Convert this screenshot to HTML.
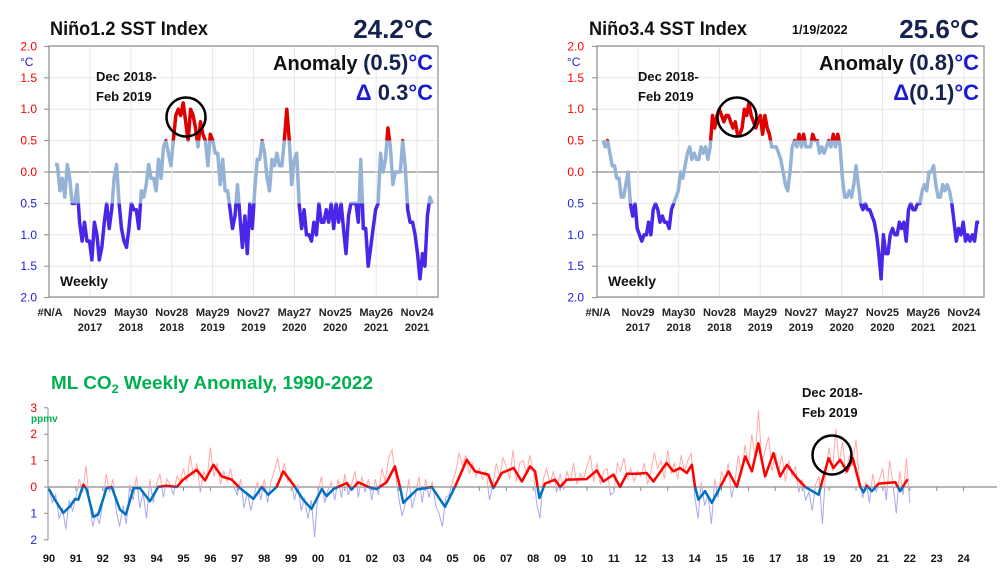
<!DOCTYPE html>
<html><head><meta charset="utf-8"><style>
html,body{margin:0;padding:0;background:#fff;}
svg{display:block;font-family:"Liberation Sans",sans-serif;}
</style></head><body>
<svg id="s" width="1005" height="586" viewBox="0 0 1005 586">
</svg>
<script>
// ---------- DATA ----------
const ninoTickLabels = ["#N/A","Nov29","May30","Nov28","May29","Nov27","May27","Nov25","May26","Nov24"];
const ninoTickYears = ["","2017","2018","2018","2019","2019","2020","2020","2021","2021"];
const ninoTickWeeks = [-26,0,26,52,78,104,130,156,182,208];
const ninoYTicks = [2,1.5,1,0.5,0,-0.5,-1,-1.5,-2];
const ninoYLabels = ["2.0","1.5","1.0","0.5","0.0","0.5","1.0","1.5","2.0"];
const ninoWeekStart = -22.3, ninoWeekEnd = 217.7;
const nino12Values = [0.12,0.12,-0.3,-0.1,-0.4,0.12,-0.1,-0.5,-0.5,-0.2,-0.8,-1.1,-0.8,-1.1,-1.1,-1.4,-0.8,-1.0,-1.4,-1.2,-0.8,-0.5,-0.9,-0.6,-0.1,0.12,-0.5,-0.9,-1.1,-1.2,-0.9,-0.5,-0.6,-0.6,-0.9,-0.3,-0.4,-0.2,0.12,-0.1,-0.1,-0.3,0.2,-0.1,0.4,0.5,0.3,0.1,0.5,0.9,1.0,0.9,1.1,0.8,0.5,1.0,0.9,0.7,0.4,0.8,0.6,0.5,0.1,0.6,0.5,0.3,0.3,-0.2,0.2,-0.3,-0.3,-0.6,-0.9,-0.7,-0.2,-0.7,-1.2,-0.7,-1.3,-0.5,-0.9,-0.3,0.2,0.2,0.5,0.3,-0.1,-0.3,0.2,0.1,0.3,0.1,0.1,0.5,1.0,0.5,-0.2,0.2,0.3,-0.5,-0.9,-0.6,-1.0,-1.0,-1.1,-0.8,-1.0,-0.5,-0.8,-0.8,-0.6,-0.8,-0.5,-0.9,-0.5,-0.8,-0.5,-0.9,-1.3,-0.7,-0.5,-0.5,-0.5,-0.8,0.2,-0.9,-0.9,-1.5,-1.2,-0.9,-0.6,-0.5,0.3,0.0,0.2,0.7,0.4,-0.2,0.0,0.0,0.0,0.5,0.1,-0.6,-0.8,-0.8,-1.0,-1.3,-1.7,-1.3,-1.5,-0.7,-0.4,-0.5];
const nino34Values = [0.5,0.4,0.5,0.3,0.1,0.1,-0.1,-0.1,-0.4,-0.4,-0.2,0.0,-0.5,-0.7,-0.5,-0.9,-1.0,-1.1,-1.0,-1.0,-0.8,-1.0,-0.6,-0.5,-0.6,-0.8,-0.7,-0.8,-0.8,-0.9,-0.6,-0.5,-0.4,-0.3,0.0,-0.1,0.1,0.3,0.4,0.2,0.3,0.2,0.2,0.4,0.3,0.4,0.2,0.4,0.9,0.7,0.9,1.0,0.9,0.8,0.9,0.9,0.8,0.7,0.8,0.6,0.6,0.7,1.0,0.9,1.1,0.9,0.8,0.7,0.8,0.9,0.6,0.9,0.7,0.6,0.4,0.4,0.4,0.3,0.2,0.0,-0.2,-0.3,0.0,0.4,0.5,0.4,0.6,0.4,0.6,0.4,0.4,0.4,0.6,0.5,0.5,0.3,0.4,0.3,0.4,0.5,0.4,0.6,0.4,0.6,0.4,-0.1,-0.4,-0.4,-0.3,-0.4,-0.2,0.1,-0.2,-0.5,-0.6,-0.5,-0.6,-0.6,-0.7,-0.8,-1.0,-1.3,-1.7,-1.0,-1.3,-1.3,-1.0,-0.9,-1.0,-1.0,-0.8,-0.9,-0.8,-1.1,-0.6,-0.5,-0.6,-0.6,-0.5,-0.5,-0.3,-0.2,-0.3,0.0,0.0,0.1,-0.2,-0.4,-0.4,-0.2,-0.3,-0.2,-0.3,-0.5,-0.8,-1.1,-0.9,-1.0,-0.8,-1.1,-1.0,-1.1,-1.0,-1.1,-0.8,-0.8];

const co2YearLabels = ["90","91","92","93","94","95","96","97","98","99","00","01","02","03","04","05","06","07","08","09","10","11","12","13","14","15","16","17","18","19","20","21","22","23","24"];
const co2YTicks = [3,2,1,0,-1,-2];
const co2YLabels = ["3","2","1","0","1","2"];
const co2SmoothYears = [1990.00,1990.22,1990.53,1990.78,1990.97,1991.09,1991.28,1991.40,1991.65,1991.83,1992.14,1992.33,1992.64,1992.86,1993.14,1993.38,1993.75,1994.06,1994.37,1994.75,1994.99,1995.49,1995.80,1996.11,1996.42,1996.79,1997.10,1997.60,1997.91,1998.15,1998.46,1998.71,1999.08,1999.45,1999.76,2000.14,2000.32,2000.57,2001.07,2001.25,2001.50,2001.87,2002.18,2002.55,2002.86,2003.05,2003.17,2003.67,2004.23,2004.72,2005.09,2005.53,2005.84,2006.33,2006.52,2006.83,2007.27,2007.58,2007.88,2008.07,2008.23,2008.44,2008.81,2009.00,2009.25,2009.99,2010.36,2010.61,2010.98,2011.23,2011.48,2011.85,2012.22,2012.47,2012.96,2013.21,2013.46,2013.71,2013.90,2014.02,2014.14,2014.39,2014.64,2014.95,2015.26,2015.57,2015.88,2016.13,2016.37,2016.62,2016.93,2017.18,2017.43,2017.80,2018.11,2018.61,2018.79,2018.98,2019.16,2019.41,2019.66,2019.88,2020.16,2020.28,2020.40,2020.59,2020.84,2021.46,2021.64,2021.92];
const co2SmoothValues = [-0.08,-0.48,-0.98,-0.73,-0.45,-0.48,0.09,-0.10,-1.13,-1.04,-0.04,0,-0.86,-1.04,-0.04,-0.04,-0.54,0,0.05,0,0.28,0.65,0.25,0.84,0.40,0.28,-0.04,-0.45,0,-0.29,0,0.59,0.09,-0.48,-0.83,-0.08,-0.35,-0.08,0.15,-0.10,0.18,0,-0.08,0.18,0.78,0,-0.60,-0.10,0,-0.75,0,1.03,0.59,0.47,-0.04,0.53,0.72,0.21,0.78,0.59,-0.42,0.13,0.28,0,0.28,0.30,0.63,0.21,0.47,0,0.50,0.50,0.53,0.21,0.91,0.59,0.72,0.53,0.84,0,-0.48,-0.16,-0.60,0,0.59,0,1.16,0.59,1.66,0.40,1.28,0.40,0.84,0.34,0,-0.29,0.40,1.09,0.72,1.03,0.59,1.09,0,-0.20,0.05,-0.16,0.13,0.18,-0.16,0.30];
const co2WeeklyStart = 1990.0, co2WeeklyStep = 0.125;
const co2WeeklyValues = [
-0.1,-0.6,-0.3,-1.2,-0.8,-1.6,-0.5,-0.9,
-0.4,0.3,-0.2,0.8,-0.5,-1.5,-1.0,-1.4,
-0.6,0.5,-0.2,0.3,-0.9,-1.5,-0.7,-1.4,
0.1,-0.5,0.4,-0.8,-0.2,-1.2,0.3,-0.6,
0.1,0.5,-0.4,0.3,0.1,-0.3,0.4,0.2,
0.7,0.2,1.2,0.4,0.9,-0.2,0.6,0.3,
1.5,0.4,0.9,0.1,0.6,0.2,0.7,0.0,
-0.3,0.3,-0.8,-0.2,-0.9,-0.3,0.2,-0.5,
0.3,-0.6,0.2,0.6,1.1,0.4,0.9,0.2,
0.3,-0.5,0.1,-0.9,-0.4,-1.2,-0.5,-1.9,
-0.2,0.4,-0.6,-0.1,0.2,-0.5,0.3,-0.4,
0.5,-0.3,0.1,0.6,-0.4,0.4,-0.2,0.3,
-0.5,0.3,-0.3,0.7,0.2,1.1,1.4,0.5,
-0.4,-1.1,-0.6,0.3,-0.8,-0.3,0.4,-0.6,
0.3,-0.4,0.2,-0.7,-1.0,-1.5,-0.4,-0.3,
0.2,0.6,1.3,0.8,1.2,0.5,0.9,0.4,
0.7,0.3,0.6,-0.5,0.1,0.9,0.4,1.1,
0.8,0.3,1.4,0.2,0.9,1.0,0.5,1.2,
0.6,-0.6,-1.2,0.3,0.7,0.1,0.6,-0.2,
0.5,-0.1,0.6,0.2,0.9,0.1,0.5,0.3,
0.8,1.2,0.2,0.9,0.1,0.6,0.7,-0.3,
-0.2,0.9,0.6,1.1,0.3,0.7,0.2,0.6,
0.4,0.9,0.1,0.6,1.3,0.7,1.0,0.3,
1.4,0.5,0.9,0.3,1.2,0.6,1.0,1.3,
-0.3,-1.2,0.2,-0.7,-0.3,-1.4,0.3,-0.4,
0.6,0.2,0.9,-0.4,0.2,1.2,0.5,1.6,
0.8,2.0,1.1,2.9,0.9,1.4,1.9,0.6,
1.3,0.6,1.2,0.2,1.0,0.4,0.8,-0.2,
0.3,-0.5,-0.2,-0.9,0.1,0.4,-1.4,0.6,
1.5,0.6,2.2,0.9,1.7,0.5,1.2,0.8,
1.8,0.3,-0.4,0.2,-0.6,0.5,-0.2,0.3,
0.7,-0.5,1.0,0.1,-1.0,0.6,-0.3,1.1,
-0.6];

// ---------- HELPERS ----------
const NS="http://www.w3.org/2000/svg";
const svg=document.getElementById('s');
function mk(tag,attrs,parent,text){const e=document.createElementNS(NS,tag);for(const k in attrs)e.setAttribute(k,attrs[k]);if(text!==undefined)e.textContent=text;(parent||svg).appendChild(e);return e;}
let clipId=0;
function clipRect(x,y,w,h){const id='c'+(clipId++);const d=mk('defs',{});const c=mk('clipPath',{id:id},d);mk('rect',{x:x,y:y,width:w,height:h},c);return id;}

function ninoChart(o){
  const g=mk('g',{});
  
  
  const L=o.left,R=o.right,T=46,B=297;
  const xs=w=>o.x0+w*o.pxw;
  const ys=v=>172-v*62.8;
  ninoYTicks.forEach((v,i)=>{
    const gl=mk('line',{x1:L,x2:R,y1:ys(v),y2:ys(v),stroke:v===0?'#8c8c8c':'#e6e6e6','stroke-width':v===0?1.3:1},g);
    
    
    mk('line',{x1:L-5,x2:L,y1:ys(v),y2:ys(v),stroke:'#8c8c8c'},g);
    const t=mk('text',{x:o.ylx,y:ys(v)+4,'text-anchor':'end','font-size':12,fill:v>=0?'#ff0000':'#2020e0'},g,ninoYLabels[i]);
    
    
  });
  const cu=mk('text',{x:o.ylx-17,y:66,'font-size':12,fill:'#2020e0'},g,'°C');
  
  
  ninoTickWeeks.forEach((w,i)=>{
    const x=xs(w);
    if(i>0){const vl=mk('line',{x1:x,x2:x,y1:T,y2:B,stroke:'#e6e6e6'},g);
      
      }
    const t=mk('text',{x:i===0?L+1:x,y:316,'text-anchor':'middle','font-size':11,'font-weight':'bold',fill:'#222'},g,ninoTickLabels[i]);
    
    
    if(ninoTickYears[i]){const t2=mk('text',{x:x,y:331,'text-anchor':'middle','font-size':11,'font-weight':'bold',fill:'#222'},g,ninoTickYears[i]);
      
      }
  });
  mk('rect',{x:L,y:T,width:R-L,height:B-T,fill:'none',stroke:'#8c8c8c','stroke-width':1.2},g);
  const n=o.values.length;
  const d=o.values.map((v,i)=>(i?'L':'M')+xs(ninoWeekStart+i*(ninoWeekEnd-ninoWeekStart)/(n-1)).toFixed(1)+' '+ys(v).toFixed(1)).join(' ');
  const bands=[[0,ys(0.5),'#e00000','series-warm'],[ys(0.5),ys(-0.5)-ys(0.5),'#95b3d7','series-neutral'],[ys(-0.5),600,'#4a26e8','series-cool']];
  bands.forEach(b=>{
    const id=clipRect(0,b[0],1005,b[1]);
    const p=mk('path',{d:d,fill:'none',stroke:b[2],'stroke-width':3.5,'stroke-linejoin':'round','clip-path':'url(#'+id+')'},g);
    
    
  });
  const tt=mk('text',{x:o.titleX,y:35,'font-size':19,'font-weight':'bold',fill:'#111',textLength:158,lengthAdjust:'spacingAndGlyphs'},g,o.title);
  
  
  const tv=mk('text',{x:o.right-5,y:38,'text-anchor':'end','font-size':26,'font-weight':'bold',fill:'#14224f'},g,o.temp);
  
  
  const an=mk('text',{x:o.right-5,y:70,'text-anchor':'end','font-size':20,'font-weight':'bold',fill:'#111'},g);
  
  
  mk('tspan',{},an,'Anomaly ');
  mk('tspan',{fill:'#14224f','font-size':22},an,o.anom);
  mk('tspan',{fill:'#1a1ad0','font-size':22},an,'°C');
  const de=mk('text',{x:o.right-5,y:100,'text-anchor':'end','font-size':22,'font-weight':'bold',fill:'#14224f'},g);
  
  
  mk('tspan',{fill:'#1a1ad0'},de,'Δ');
  mk('tspan',{},de,o.delta);
  mk('tspan',{fill:'#1a1ad0'},de,'°C');
  const a1=mk('text',{x:o.annX,y:81,'font-size':13,'font-weight':'bold',fill:'#111'},g,'Dec 2018-');
  
  
  mk('text',{x:o.annX,y:101,'font-size':13,'font-weight':'bold',fill:'#111'},g,'Feb 2019');
  const c=mk('circle',{cx:o.circX,cy:117,r:19.5,fill:'none',stroke:'#000','stroke-width':2.5},g);
  
  
  const wk=mk('text',{x:o.left+11,y:286,'font-size':14,'font-weight':'bold',fill:'#111'},g,'Weekly');
  
  
}

ninoChart({name:'nino12-chart',left:49,right:438,x0:90,pxw:1.5725,ylx:37,values:nino12Values,title:'Niño1.2 SST Index',titleX:50,temp:'24.2°C',anom:'(0.5)',delta:'  0.3',annX:96,circX:186});
ninoChart({name:'nino34-chart',left:597,right:984,x0:638,pxw:1.567,ylx:584,values:nino34Values,title:'Niño3.4 SST Index',titleX:589,temp:'25.6°C',anom:'(0.8)',delta:'(0.1)',annX:638,circX:737});
const dt=mk('text',{x:792,y:34,'font-size':12.5,'font-weight':'bold',fill:'#111'},svg,'1/19/2022');



// ---------- CO2 CHART ----------
(function(){
  const g=mk('g',{});
  
  
  const xs=yr=>49+(yr-1990)*26.9;
  const ys=v=>487-v*26.4;
  const title=mk('text',{x:51,y:389,'font-size':18,'font-weight':'bold',fill:'#00b050',textLength:322,lengthAdjust:'spacingAndGlyphs'},g);
  
  
  mk('tspan',{},title,'ML CO');
  mk('tspan',{'font-size':12,dy:4},title,'2');
  mk('tspan',{dy:-4},title,' Weekly Anomaly,  1990-2022');
  mk('line',{x1:48,x2:48,y1:ys(3),y2:ys(-2),stroke:'#8c8c8c'},g);
  co2YTicks.forEach((v,i)=>{
    mk('line',{x1:44,x2:48,y1:ys(v),y2:ys(v),stroke:'#8c8c8c'},g);
    const t=mk('text',{x:37,y:ys(v)+4,'text-anchor':'end','font-size':12,fill:v>=0?'#ff0000':'#2020e0'},g,co2YLabels[i]);
    
    
  });
  const u=mk('text',{x:31,y:422,'font-size':10,'font-weight':'bold',fill:'#00b050'},g,'ppmv');
  
  
  const zl=mk('line',{x1:48,x2:997,y1:ys(0),y2:ys(0),stroke:'#8c8c8c','stroke-width':1.3},g);
  
  
  co2YearLabels.forEach((lab,i)=>{
    const x=xs(1990+i);
    mk('line',{x1:x,x2:x,y1:ys(0),y2:ys(0)+4,stroke:'#8c8c8c'},g);
    const t=mk('text',{x:x,y:562,'text-anchor':'middle','font-size':11,'font-weight':'bold',fill:'#111'},g,lab);
    
    
  });
  const above=clipRect(0,0,1005,ys(0)), below=clipRect(0,ys(0),1005,200);
  const dw=co2WeeklyValues.map((v,i)=>(i?'L':'M')+xs(co2WeeklyStart+i*co2WeeklyStep).toFixed(1)+' '+ys(v).toFixed(1)).join(' ');
  const w1=mk('path',{d:dw,fill:'none',stroke:'#ffa8a8','stroke-width':1,'clip-path':'url(#'+above+')'},g);
  
  
  const w2=mk('path',{d:dw,fill:'none',stroke:'#a8a8ee','stroke-width':1,'clip-path':'url(#'+below+')'},g);
  
  
  const ds=co2SmoothValues.map((v,i)=>(i?'L':'M')+xs(co2SmoothYears[i]).toFixed(1)+' '+ys(v).toFixed(1)).join(' ');
  const s1=mk('path',{d:ds,fill:'none',stroke:'#ff0000','stroke-width':2.5,'stroke-linejoin':'round','clip-path':'url(#'+above+')'},g);
  
  
  const s2=mk('path',{d:ds,fill:'none',stroke:'#0070c0','stroke-width':2.5,'stroke-linejoin':'round','clip-path':'url(#'+below+')'},g);
  
  
  const a1=mk('text',{x:802,y:397,'font-size':13,'font-weight':'bold',fill:'#111'},g,'Dec 2018-');
  
  
  mk('text',{x:802,y:417,'font-size':13,'font-weight':'bold',fill:'#111'},g,'Feb 2019');
  const c=mk('circle',{cx:832,cy:455,r:19.5,fill:'none',stroke:'#000','stroke-width':2.5},g);
  
  
})();
</script>
</body></html>
